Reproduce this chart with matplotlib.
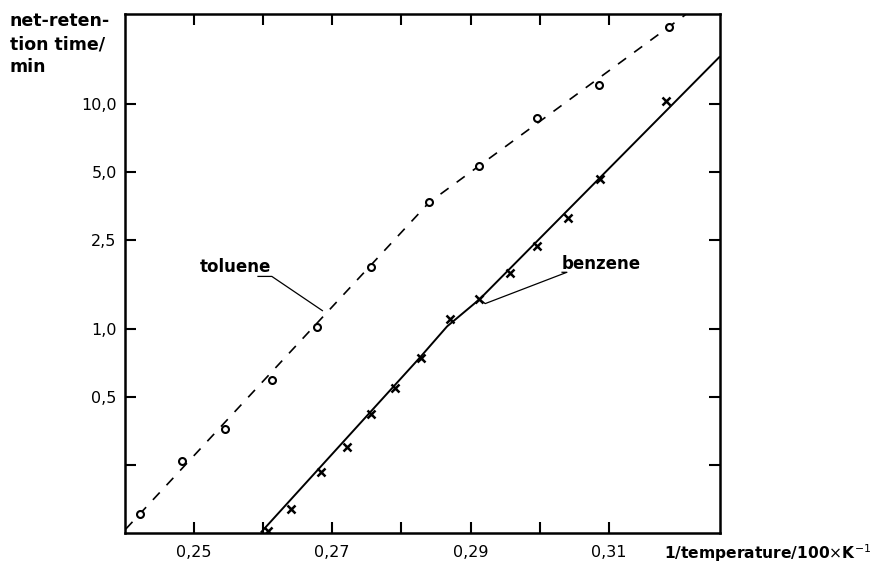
import matplotlib.pyplot as plt

# toluene: measured points and hand-drawn line
tol_x = [0.2422, 0.2484, 0.2546, 0.2613, 0.2678, 0.2756, 0.2840, 0.2912, 0.2996, 0.3086, 0.3187]
tol_y = [0.152, 0.261, 0.361, 0.595, 1.02, 1.88, 3.65, 5.32, 8.67, 12.1, 21.9]
tol_line_x = [0.2402, 0.2840, 0.3210]
tol_line_y = [0.130, 3.65, 24.8]

# benzene
ben_x = [0.2607, 0.2640, 0.2684, 0.2721, 0.2756, 0.2791, 0.2828, 0.2870, 0.2912,
         0.2957, 0.2996, 0.3041, 0.3087, 0.3182]
ben_y = [0.128, 0.160, 0.233, 0.301, 0.421, 0.548, 0.744, 1.11, 1.36,
         1.77, 2.35, 3.10, 4.66, 10.3]
ben_line_x = [0.2598, 0.2827, 0.2866, 0.2913, 0.3259]
ben_line_y = [0.1265, 0.751, 1.03, 1.36, 16.1]

x_ticks = [0.25, 0.26, 0.27, 0.28, 0.29, 0.30, 0.31]
x_labels = ['0,25', '', '0,27', '', '0,29', '', '0,31']
y_ticks = [0.25, 0.5, 1.0, 2.5, 5.0, 10.0]
y_labels = ['', '0,5', '1,0', '2,5', '5,0', '10,0']

plt.rcParams['font.family'] = ['DejaVu Sans']

fig = plt.figure(figsize=(8.79, 5.63), dpi=100)
ax = fig.add_axes([0.1422, 0.0533, 0.6769, 0.9218])
ax.set_yscale('log')
ax.set_xlim(0.2401, 0.3260)
ax.set_ylim(0.125, 25)

# lines
ax.plot(tol_line_x, tol_line_y, color='black', lw=1.2, dashes=(6, 6))
ax.plot(ben_line_x, ben_line_y, color='black', lw=1.4)
# points
ax.plot(tol_x, tol_y, 'o', ms=5, mfc='white', mec='black', mew=1.5)
ax.plot(ben_x, ben_y, 'x', ms=6, color='black', mew=1.8)

# ticks
ax.set_xticks(x_ticks)
ax.set_xticklabels(x_labels)
ax.set_yticks(y_ticks)
ax.set_yticklabels(y_labels)
ax.minorticks_off()
ax.tick_params(direction='in', length=8, width=1.5, top=True, right=True,
               labelsize=11.5, pad=6)
ax.tick_params(axis='x', pad=9)
for s in ax.spines.values():
    s.set_linewidth(1.8)

# labels
fig.text(0.011, 0.978, 'net-reten-\ntion time/\nmin', ha='left', va='top',
         fontsize=12.5, fontweight='bold', linespacing=1.35)
fig.text(0.991, 0.018, r'1/temperature/100$\times$K$^{-1}$', ha='right', va='center',
         fontsize=11.2, fontweight='bold')

# annotations
ax.text(0.2509, 1.88, 'toluene', fontsize=12, fontweight='bold', ha='left', va='center')
ax.plot([0.2593, 0.2613, 0.2686], [1.716, 1.716, 1.21], color='black', lw=0.9)
ax.text(0.3032, 1.94, 'benzene', fontsize=12, fontweight='bold', ha='left', va='center')
ax.plot([0.3032, 0.3039, 0.2921, 0.2913], [1.79, 1.79, 1.30, 1.36], color='black', lw=0.9)

fig.savefig('out.png', dpi=100)
